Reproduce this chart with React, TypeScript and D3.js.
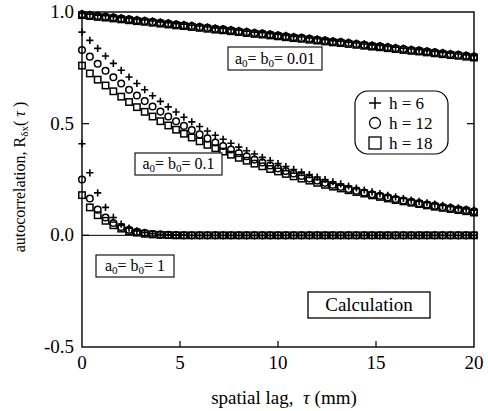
import React from 'react';
import {scaleLinear} from 'd3';

const FONT = {fontFamily: '"Liberation Serif", "Times New Roman", serif'};

// spatial lag grid (mm)
const tau = [0,0.4,0.8,1.2,1.6,2,2.4,2.8,3.2,3.6,4,4.4,4.8,5.2,5.6,6,6.4,6.8,7.2,7.6,8,8.4,8.8,9.2,9.6,10,
  10.4,10.8,11.2,11.6,12,12.4,12.8,13.2,13.6,14,14.4,14.8,15.2,15.6,16,16.4,16.8,17.2,17.6,18,18.4,18.8,19.2,19.6,20];

// a0 = b0 = 0.01
const s001_h6 = [0.994,0.990,0.986,0.983,0.979,0.975,0.971,0.967,0.964,0.960,0.956,0.952,0.948,0.945,0.941,0.937,0.933,0.929,0.926,0.922,0.918,0.914,0.910,0.907,0.903,0.899,
  0.895,0.891,0.888,0.884,0.880,0.876,0.872,0.869,0.865,0.861,0.857,0.853,0.850,0.846,0.842,0.838,0.834,0.831,0.827,0.823,0.819,0.815,0.812,0.808,0.804];
const s001_h12 = [0.990,0.986,0.982,0.979,0.975,0.971,0.967,0.963,0.960,0.956,0.952,0.948,0.944,0.941,0.937,0.933,0.929,0.925,0.922,0.918,0.914,0.910,0.906,0.903,0.899,0.895,
  0.891,0.887,0.884,0.880,0.876,0.872,0.868,0.865,0.861,0.857,0.853,0.849,0.846,0.842,0.838,0.834,0.830,0.827,0.823,0.819,0.815,0.811,0.808,0.804,0.800];
const s001_h18 = [0.986,0.982,0.978,0.975,0.971,0.967,0.963,0.959,0.956,0.952,0.948,0.944,0.940,0.937,0.933,0.929,0.925,0.921,0.918,0.914,0.910,0.906,0.902,0.899,0.895,0.891,
  0.887,0.883,0.880,0.876,0.872,0.868,0.864,0.861,0.857,0.853,0.849,0.845,0.842,0.838,0.834,0.830,0.826,0.823,0.819,0.815,0.811,0.807,0.804,0.800,0.796];

// a0 = b0 = 0.1
const s01_h6 = [0.910,0.873,0.837,0.803,0.770,0.739,0.709,0.680,0.652,0.625,0.600,0.575,0.552,0.529,0.508,0.487,0.467,0.448,0.430,0.412,0.395,0.379,0.364,0.349,0.335,0.321,
  0.308,0.295,0.283,0.272,0.261,0.250,0.240,0.230,0.221,0.212,0.203,0.195,0.187,0.179,0.172,0.165,0.158,0.152,0.146,0.140,0.134,0.128,0.123,0.118,0.113];
const s01_h12 = [0.830,0.800,0.768,0.737,0.708,0.680,0.652,0.626,0.601,0.577,0.554,0.532,0.511,0.490,0.471,0.452,0.434,0.416,0.400,0.384,0.368,0.354,0.339,0.326,0.313,0.300,
  0.288,0.277,0.266,0.255,0.245,0.235,0.226,0.217,0.208,0.200,0.192,0.184,0.177,0.170,0.163,0.156,0.150,0.144,0.138,0.133,0.127,0.122,0.117,0.113,0.108];
const s01_h18 = [0.760,0.725,0.697,0.671,0.645,0.621,0.597,0.574,0.553,0.532,0.511,0.492,0.473,0.455,0.438,0.421,0.405,0.390,0.375,0.361,0.347,0.334,0.321,0.309,0.297,0.286,
  0.275,0.264,0.254,0.245,0.235,0.226,0.218,0.210,0.202,0.194,0.187,0.179,0.172,0.165,0.158,0.152,0.146,0.140,0.134,0.128,0.123,0.118,0.113,0.108,0.102];

// a0 = b0 = 1
const s1_h6 = [0.410,0.280,0.190,0.125,0.080,0.050,0.032,0.020,0.013,0.008,0.005,0.003,0.002,0.001,0,0,0,0,0,0,0,0,0,0,0,0,
  0,0,0,0,0,0,0,0,0,0,0,0,0,0,0,0,0,0,0,0,0,0,0,0,0];
const s1_h12 = [0.250,0.165,0.115,0.080,0.055,0.037,0.025,0.016,0.010,0.006,0.004,0.002,0.001,0,0,0,0,0,0,0,0,0,0,0,0,0,
  0,0,0,0,0,0,0,0,0,0,0,0,0,0,0,0,0,0,0,0,0,0,0,0,0];
const s1_h18 = [0.180,0.125,0.090,0.065,0.045,0.030,0.019,0.012,0.007,0.004,0.002,0.001,0,0,0,0,0,0,0,0,0,0,0,0,0,0,
  0,0,0,0,0,0,0,0,0,0,0,0,0,0,0,0,0,0,0,0,0,0,0,0,0];

const xTicks = [0,5,10,15,20];
const yTicks = [-0.5,0,0.5,1.0];
const legendLabels = ['h = 6','h = 12','h = 18'];

const W = 488, H = 411;
const left = 82, right = 474, top = 12, bottom = 347;

const Marker = ({kind,x,y}:{kind:string,x:number,y:number}) => {
  if (kind==='plus') return <path d={`M${x-3.6},${y}H${x+3.6}M${x},${y-3.6}V${y+3.6}`} stroke="#000" strokeWidth={1.6} fill="none"/>;
  if (kind==='circle') return <circle cx={x} cy={y} r={3.3} stroke="#000" strokeWidth={1.5} fill="none"/>;
  return <rect x={x-3.2} y={y-3.2} width={6.4} height={6.4} stroke="#000" strokeWidth={1.5} fill="none"/>;
};

const ParamLabel = ({x,y,w,h,value}:{x:number,y:number,w:number,h:number,value:string}) => (
  <g>
    <rect x={x} y={y} width={w} height={h} fill="#fff" stroke="#000" strokeWidth={1.1}/>
    <text x={x+w/2} y={y+h/2+5} textAnchor="middle" style={FONT} fontSize={16}>
      a<tspan fontSize={11} dy={3}>0</tspan><tspan dy={-3}>= b</tspan><tspan fontSize={11} dy={3}>0</tspan><tspan dy={-3}>= {value}</tspan>
    </text>
  </g>
);

export default function App() {
  const x = scaleLinear().domain([0,20]).range([left,right]);
  const y = scaleLinear().domain([-0.5,1.0]).range([bottom,top]);

  const groups = [
    {kind:'rect', data:[s001_h18,s01_h18,s1_h18]},
    {kind:'circle', data:[s001_h12,s01_h12,s1_h12]},
    {kind:'plus', data:[s001_h6,s01_h6,s1_h6]},
  ];

  return (
    <svg width={W} height={H} style={{position:'absolute',left:0,top:0,background:'#fff'}}>
      <rect x={0} y={0} width={W} height={H} fill="#fff"/>
      {/* zero line */}
      <line x1={left} x2={right} y1={y(0)} y2={y(0)} stroke="#000" strokeWidth={1}/>
      {/* data */}
      {groups.map(g => g.data.map((series,si) => series.map((v,i) => (
        <Marker key={`${g.kind}-${si}-${i}`} kind={g.kind} x={x(tau[i])} y={y(v)}/>
      ))))}
      {/* frame */}
      <rect x={left} y={top} width={right-left} height={bottom-top} fill="none" stroke="#000" strokeWidth={1.4}/>
      {/* ticks */}
      {xTicks.slice(1,-1).map(t => (
        <line key={`xt${t}`} x1={x(t)} x2={x(t)} y1={bottom} y2={bottom-6} stroke="#000" strokeWidth={1.2}/>
      ))}
      {yTicks.slice(1,-1).map(t => (
        <g key={`yt${t}`}>
          <line x1={left} x2={left+7} y1={y(t)} y2={y(t)} stroke="#000" strokeWidth={1.2}/>
          <line x1={right} x2={right-7} y1={y(t)} y2={y(t)} stroke="#000" strokeWidth={1.2}/>
        </g>
      ))}
      {/* tick labels */}
      {xTicks.map(t => (
        <text key={`xl${t}`} x={x(t)} y={bottom+22} textAnchor="middle" style={FONT} fontSize={19}>{t}</text>
      ))}
      {yTicks.map(t => (
        <text key={`yl${t}`} x={left-8} y={y(t)+6} textAnchor="end" style={FONT} fontSize={19}>{t.toFixed(1)}</text>
      ))}
      {/* axis titles */}
      <text x={284} y={404} textAnchor="middle" style={FONT} fontSize={19}>
        {'spatial lag,\u00a0 '}<tspan fontStyle="italic">τ</tspan> (mm)
      </text>
      <text transform="translate(25,177) rotate(-90)" textAnchor="middle" style={FONT} fontSize={16}>
        autocorrelation, R<tspan fontSize={11} dy={3}>δx</tspan><tspan dy={-3}>( </tspan><tspan fontStyle="italic">τ</tspan> )
      </text>
      {/* parameter labels */}
      <ParamLabel x={228} y={47} w={94} h={23} value="0.01"/>
      <ParamLabel x={135} y={153} w={87} h={22} value="0.1"/>
      <ParamLabel x={96} y={255} w={78} h={22} value="1"/>
      {/* calculation label */}
      <rect x={308} y={292} width={122} height={26} fill="#fff" stroke="#000" strokeWidth={1.3}/>
      <text x={369} y={311} textAnchor="middle" style={FONT} fontSize={19}>Calculation</text>
      {/* legend */}
      <rect x={355} y={91} width={93} height={63} rx={13} ry={13} fill="#fff" stroke="#000" strokeWidth={1.2}/>
      {['plus','circle','rect'].map((k,i) => (
        <g key={k}>
          <g transform={`translate(${375},${103+i*20})`}>
            {k==='plus' && <path d="M-6,0H6M0,-6V6" stroke="#000" strokeWidth={1.5}/>}
            {k==='circle' && <circle r={5.5} fill="none" stroke="#000" strokeWidth={1.3}/>}
            {k==='rect' && <rect x={-6} y={-6} width={12} height={12} fill="none" stroke="#000" strokeWidth={1.3}/>}
          </g>
          <text x={389} y={103+i*20+6} style={FONT} fontSize={17}>{legendLabels[i]}</text>
        </g>
      ))}
    </svg>
  );
}
